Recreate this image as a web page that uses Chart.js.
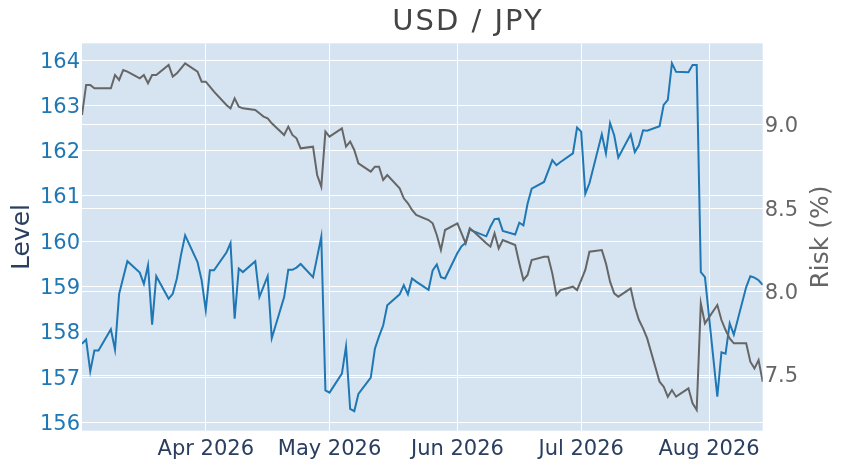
<!DOCTYPE html>
<html>
<head>
<meta charset="utf-8">
<script src="https://cdn.jsdelivr.net/npm/chart.js@4.4.1/dist/chart.umd.min.js"></script>
<style>
  html, body { margin: 0; padding: 0; background: #fff; }
</style>
</head>
<body>
<canvas id="usdJpyChart" width="849" height="466"></canvas>
<script>
  // Trading days, Mar 2 - Aug 14 2026
  const dates = [
    '2026-03-02', '2026-03-03', '2026-03-04', '2026-03-05', '2026-03-06',
    '2026-03-09', '2026-03-10', '2026-03-11', '2026-03-12', '2026-03-13',
    '2026-03-16', '2026-03-17', '2026-03-18', '2026-03-19', '2026-03-20',
    '2026-03-23', '2026-03-24', '2026-03-25', '2026-03-26', '2026-03-27',
    '2026-03-30', '2026-03-31', '2026-04-01', '2026-04-02', '2026-04-03',
    '2026-04-06', '2026-04-07', '2026-04-08', '2026-04-09', '2026-04-10',
    '2026-04-13', '2026-04-14', '2026-04-15', '2026-04-16', '2026-04-17',
    '2026-04-20', '2026-04-21', '2026-04-22', '2026-04-23', '2026-04-24',
    '2026-04-27', '2026-04-28', '2026-04-29', '2026-04-30', '2026-05-01',
    '2026-05-04', '2026-05-05', '2026-05-06', '2026-05-07', '2026-05-08',
    '2026-05-11', '2026-05-12', '2026-05-13', '2026-05-14', '2026-05-15',
    '2026-05-18', '2026-05-19', '2026-05-20', '2026-05-21', '2026-05-22',
    '2026-05-25', '2026-05-26', '2026-05-27', '2026-05-28', '2026-05-29',
    '2026-06-01', '2026-06-02', '2026-06-03', '2026-06-04', '2026-06-05',
    '2026-06-08', '2026-06-09', '2026-06-10', '2026-06-11', '2026-06-12',
    '2026-06-15', '2026-06-16', '2026-06-17', '2026-06-18', '2026-06-19',
    '2026-06-22', '2026-06-23', '2026-06-24', '2026-06-25', '2026-06-26',
    '2026-06-29', '2026-06-30', '2026-07-01', '2026-07-02', '2026-07-03',
    '2026-07-06', '2026-07-07', '2026-07-08', '2026-07-09', '2026-07-10',
    '2026-07-13', '2026-07-14', '2026-07-15', '2026-07-16', '2026-07-17',
    '2026-07-20', '2026-07-21', '2026-07-22', '2026-07-23', '2026-07-24',
    '2026-07-27', '2026-07-28', '2026-07-29', '2026-07-30', '2026-07-31',
    '2026-08-03', '2026-08-04', '2026-08-05', '2026-08-06', '2026-08-07',
    '2026-08-10', '2026-08-11', '2026-08-12', '2026-08-13', '2026-08-14'
  ];

  // USD/JPY level (left axis)
  const level = [
    157.74, 157.83, 157.13, 157.59, 157.59,
    158.06, 157.61, 158.84, 159.20, 159.56,
    159.31, 159.06, 159.47, 158.16, 159.23,
    158.73, 158.84, 159.18, 159.70, 160.13,
    159.54, 159.14, 158.48, 159.36, 159.36,
    159.75, 159.96, 158.29, 159.40, 159.32,
    159.56, 158.77, 159.00, 159.23, 157.86,
    158.77, 159.37, 159.37, 159.42, 159.50,
    159.21, 159.65, 160.10, 156.71, 156.66,
    157.08, 157.68, 156.30, 156.25, 156.63,
    156.99, 157.63, 157.90, 158.14, 158.59,
    158.83, 159.03, 158.83, 159.18, 159.11,
    158.93, 159.36, 159.49, 159.21, 159.18,
    159.74, 159.89, 159.97, 160.26, 160.22,
    160.11, 160.32, 160.49, 160.50, 160.23,
    160.15, 160.41, 160.35, 160.83, 161.16,
    161.31, 161.55, 161.79, 161.68, 161.75,
    161.94, 162.51, 162.42, 161.05, 161.28,
    162.36, 161.94, 162.61, 162.34, 161.85,
    162.36, 161.97, 162.12, 162.45, 162.44,
    162.54, 163.01, 163.12, 163.93, 163.74,
    163.73, 163.89, 163.89, 159.32, 159.21,
    156.57, 157.55, 157.52, 158.19, 157.94,
    158.99, 159.23, 159.20, 159.14, 159.04
  ];

  // Risk in % (right axis)
  const risk = [
    9.06, 9.24, 9.24, 9.22, 9.22,
    9.22, 9.30, 9.27, 9.33, 9.32,
    9.28, 9.30, 9.25, 9.30, 9.30,
    9.36, 9.29, 9.31, 9.34, 9.37,
    9.32, 9.26, 9.26, 9.23, 9.20,
    9.12, 9.10, 9.16, 9.11, 9.10,
    9.09, 9.07, 9.05, 9.04, 9.01,
    8.94, 8.99, 8.94, 8.92, 8.86,
    8.87, 8.70, 8.63, 8.96, 8.93,
    8.98, 8.87, 8.90, 8.85, 8.77,
    8.72, 8.75, 8.75, 8.67, 8.70,
    8.62, 8.56, 8.53, 8.49, 8.46,
    8.43, 8.41, 8.34, 8.25, 8.37,
    8.41, 8.35, 8.29, 8.38, 8.36,
    8.29, 8.27, 8.35, 8.26, 8.31,
    8.28, 8.17, 8.07, 8.10, 8.19,
    8.21, 8.21, 8.11, 7.98, 8.01,
    8.03, 8.01, 8.07, 8.13, 8.24,
    8.25, 8.17, 8.06, 7.99, 7.97,
    8.02, 7.91, 7.83, 7.78, 7.72,
    7.46, 7.43, 7.37, 7.41, 7.37,
    7.42, 7.33, 7.29, 7.93, 7.81,
    7.92, 7.83, 7.77, 7.72, 7.69,
    7.69, 7.58, 7.54, 7.59, 7.46
  ];

  const tickDates = ['2026-04-01', '2026-05-01', '2026-06-01', '2026-07-01', '2026-08-01'];
  const tickLabels = ['Apr 2026', 'May 2026', 'Jun 2026', 'Jul 2026', 'Aug 2026'];
  const levelTicks = [156, 157, 158, 159, 160, 161, 162, 163, 164];
  const riskTicks = [7.5, 8.0, 8.5, 9.0];

  function toTime(d) {
    return Date.parse(d + 'T00:00:00Z');
  }

  Chart.defaults.font.family = '"DejaVu Sans", sans-serif';

  // light blue plot area behind the grid
  const plotBackground = {
    id: 'plotBackground',
    beforeDraw(chart) {
      const { ctx, chartArea: a } = chart;
      ctx.save();
      ctx.fillStyle = '#d5e4f0';
      ctx.fillRect(a.left, a.top, a.right - a.left, a.bottom - a.top);
      ctx.restore();
    }
  };

  // main title and the right axis title (reads bottom to top)
  const extraTexts = {
    id: 'extraTexts',
    afterDraw(chart) {
      const { ctx, chartArea: a } = chart;
      ctx.save();
      ctx.fillStyle = '#444';
      ctx.font = '29px "DejaVu Sans"';
      ctx.textAlign = 'center';
      ctx.textBaseline = 'alphabetic';
      ctx.letterSpacing = '2px';
      ctx.fillText('USD / JPY', 468, 30);
      ctx.letterSpacing = '0px';

      ctx.translate(821, (a.top + a.bottom) / 2);
      ctx.rotate(-Math.PI / 2);
      ctx.fillStyle = '#666';
      ctx.font = '25px "DejaVu Sans"';
      ctx.textBaseline = 'middle';
      ctx.fillText('Risk (%)', 0, 0);
      ctx.restore();
    }
  };

  const ctx = document.getElementById('usdJpyChart').getContext('2d');
  const usdJpyChart = new Chart(ctx, {
    type: 'line',
    data: {
      datasets: [{
        label: 'Level',
        data: dates.map((d, i) => ({ x: toTime(d), y: level[i] })),
        borderColor: '#1f77b4',
        borderWidth: 2,
        yAxisID: 'y',
        order: 2
      }, {
        label: 'Risk (%)',
        data: dates.map((d, i) => ({ x: toTime(d), y: risk[i] })),
        borderColor: '#666666',
        borderWidth: 2,
        yAxisID: 'y1',
        order: 1
      }]
    },
    options: {
      responsive: false,
      animation: false,
      layout: { padding: { top: 43.3, left: 0, right: 0, bottom: 0 } },
      elements: {
        point: { radius: 0 },
        line: { tension: 0 }
      },
      plugins: {
        legend: { display: false },
        tooltip: { enabled: false }
      },
      scales: {
        x: {
          type: 'linear',
          min: toTime(dates[0]),
          max: toTime(dates[dates.length - 1]),
          afterBuildTicks: (scale) => {
            scale.ticks = tickDates.map(d => ({ value: toTime(d) }));
          },
          afterFit: (scale) => { scale.height = 35.3; },
          ticks: {
            callback: (value, index) => tickLabels[index],
            color: '#2a3f5f',
            font: { size: 21 },
            padding: 6,
            maxRotation: 0,
            autoSkip: false
          },
          grid: { color: '#ffffff', lineWidth: 1, drawTicks: false },
          border: { display: false }
        },
        y: {
          position: 'left',
          min: 155.82,
          max: 164.37,
          afterBuildTicks: (scale) => {
            scale.ticks = levelTicks.map(v => ({ value: v }));
          },
          afterFit: (scale) => { scale.width = 82; },
          ticks: {
            callback: (value) => value,
            color: '#1f77b4',
            font: { size: 21 },
            padding: 2,
            labelOffset: 2
          },
          title: {
            display: true,
            text: 'Level',
            color: '#2a3f5f',
            font: { size: 25 },
            padding: { top: 7, bottom: 0 }
          },
          grid: { color: '#ffffff', lineWidth: 1, drawTicks: false },
          border: { display: false }
        },
        y1: {
          position: 'right',
          min: 7.166,
          max: 9.49,
          afterBuildTicks: (scale) => {
            scale.ticks = riskTicks.map(v => ({ value: v }));
          },
          afterFit: (scale) => { scale.width = 86.3; },
          ticks: {
            callback: (value) => value.toFixed(1),
            color: '#666666',
            font: { size: 21 },
            padding: 2,
            labelOffset: 2
          },
          grid: { color: '#ffffff', lineWidth: 1, drawTicks: false },
          border: { display: false }
        }
      }
    },
    plugins: [plotBackground, extraTexts]
  });
</script>
</body>
</html>
